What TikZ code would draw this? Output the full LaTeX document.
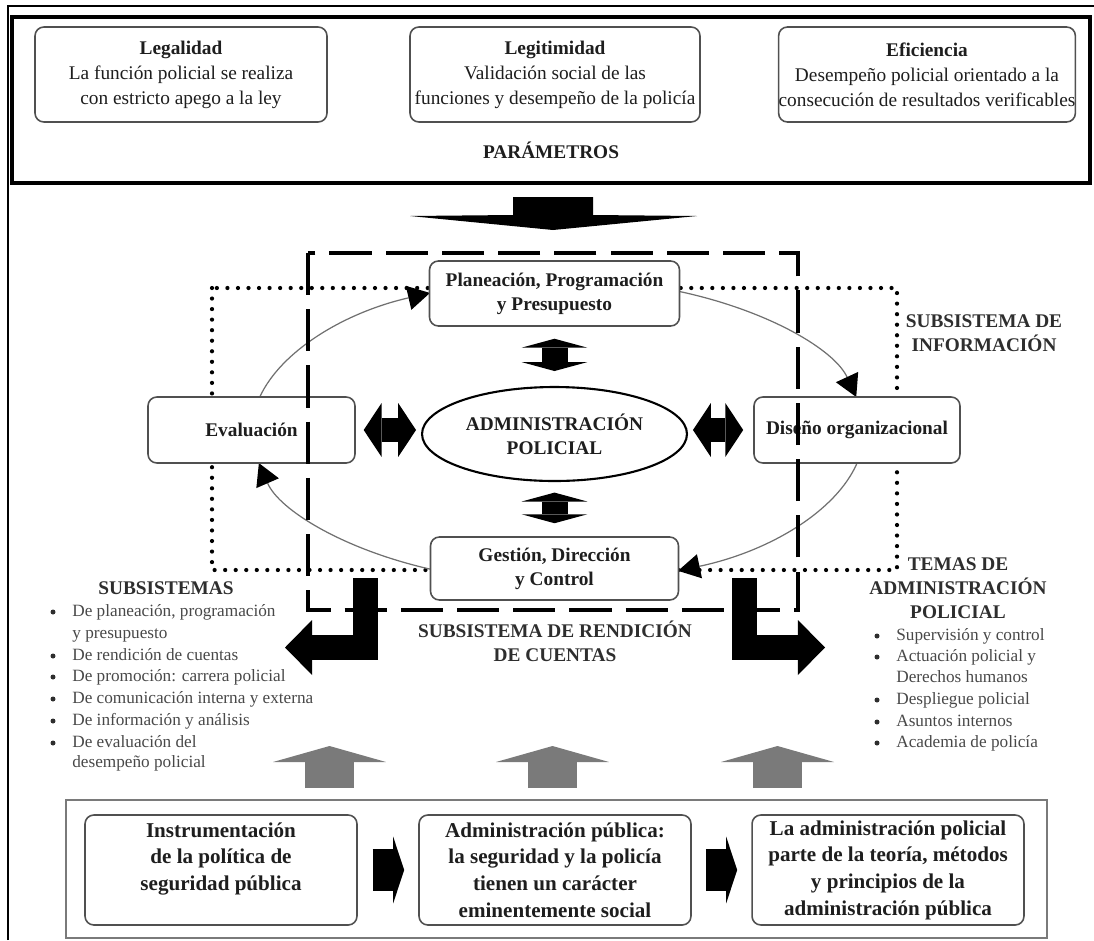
\documentclass[tikz,border=0pt]{standalone}
\usepackage{fontspec}
\setmainfont{Liberation Serif}
\usetikzlibrary{arrows.meta,shapes.geometric,calc}
\definecolor{txt}{HTML}{1E1E1E}
\definecolor{lst}{HTML}{484848}
\definecolor{hd}{HTML}{2E2E2E}
\definecolor{bdr}{HTML}{505050}
\definecolor{garrow}{HTML}{7A7A7A}
\definecolor{cycl}{HTML}{707070}
\tikzset{
  pbox/.style={draw=bdr, line width=0.9pt, rounded corners=5pt, fill=white, align=center, inner sep=0pt, text=txt},
  topfont/.style={font=\fontsize{11}{14.2}\selectfont},
  midfont/.style={font=\bfseries\fontsize{11}{13.7}\selectfont},
  botfont/.style={font=\bfseries\fontsize{12}{15.2}\selectfont},
  headtxt/.style={font=\bfseries\fontsize{11}{13.7}\selectfont, text=hd, align=center, inner sep=0pt},
  listtxt/.style={font=\fontsize{9.8}{12.3}\selectfont, text=lst, inner sep=0pt},
  bulletdot/.style={circle, fill=hd, inner sep=0pt, minimum size=0.1cm},
  parambox/.style={draw=black, line width=2.5pt, inner sep=0pt},
  infoline/.style={line width=2.4pt, line cap=round, dash pattern=on 0pt off 6pt},
  rendline/.style={line width=2.4pt, dash pattern=on 24pt off 8pt},
  cycarrow/.style={draw=cycl, line width=0.7pt, -{Triangle[length=12.5pt,width=14pt,color=black,line width=0pt]}},
  hdbl/.style={draw=black, line width=13.7pt, {Triangle[length=10.2pt,width=30.7pt,line width=0pt]}-{Triangle[length=10.2pt,width=30.7pt,line width=0pt]}},
  vdbl/.style={draw=black, line width=14.8pt, {Triangle[length=5.1pt,width=37.5pt,line width=0pt]}-{Triangle[length=5.1pt,width=37.5pt,line width=0pt]}},
  larrow/.style={draw=black, line width=14.5pt, line join=miter, -{Triangle[length=15.4pt,width=31.3pt,line width=0pt]}},
  garr/.style={draw=garrow, line width=27.9pt, -{Triangle[length=9.1pt,width=64.3pt,line width=0pt]}},
  barr/.style={draw=black, line width=23.9pt, -{Triangle[length=6.3pt,width=38.1pt,line width=0pt]}},
}
\begin{document}
\begin{tikzpicture}[x=0.02cm,y=-0.02cm]
\useasboundingbox (0,0) rectangle (1094,940);

% outer frame
\coordinate (fr1) at (8,940); \coordinate (fr2) at (8,6); \coordinate (fr3) at (1094,6);
\draw[line width=1.1pt] (fr1) -- (fr2) -- (fr3);

% parameters block
\node[parambox, minimum width=21.56cm, minimum height=3.32cm] (param) at (551,100) {};
\node[pbox, topfont, minimum width=5.84cm, minimum height=1.9cm] (leg) at (181,74.5)
  {\textbf{Legalidad}\\La función policial se realiza\\con estricto apego a la ley};
\node[pbox, topfont, minimum width=5.8cm, minimum height=1.9cm] (legi) at (555,74.5)
  {\textbf{Legitimidad}\\Validación social de las\\funciones y desempeño de la policía};
\node[pbox, topfont, minimum width=5.8cm, minimum height=1.9cm] (efi) at (927,74.5)
  {\textbf{Eficiencia}\\Desempeño policial orientado a la\\consecución de resultados verificables};
\node[headtxt, text=txt] (partxt) at (551,150) {PARÁMETROS};

% big down arrow
\fill[black] (513,197) -- (593,197) -- (593,215) -- (697,216) -- (553,230) -- (410,216) -- (513,215) -- cycle;

% information subsystem (dotted)
\coordinate (inf1) at (212,288); \coordinate (inf2) at (897,570);
\draw[infoline] (inf1) rectangle (inf2);

% cycle arcs (ellipse centre 558,431; radii 306 x 152)
\coordinate (cA) at (259.75,397);
\coordinate (cB) at (680,291.6);
\coordinate (cC) at (857.1,463);
\coordinate (cD) at (430,569.1);
\draw[cycarrow] (cA) arc[start angle=192.925, end angle=245.27, x radius=306, y radius=152];
\draw[cycarrow] (cB) arc[start angle=293.5, end angle=347.075, x radius=306, y radius=152];
\draw[cycarrow] (cC) arc[start angle=12.155, end angle=66.91, x radius=306, y radius=152];
\draw[cycarrow] (cD) arc[start angle=114.73, end angle=167.845, x radius=306, y radius=152];

% central boxes
\node[pbox, midfont, minimum width=5cm, minimum height=1.3cm] (plan) at (554.5,293.5)
  {Planeación, Programación\\y Presupuesto};
\node[pbox, midfont, minimum width=4.96cm, minimum height=1.26cm] (ges) at (554.5,568.5)
  {Gestión, Dirección\\y Control};
\node[pbox, midfont, minimum width=4.14cm, minimum height=1.32cm] (eva) at (251.5,430) {Evaluación};
\node[pbox, midfont, minimum width=4.12cm, minimum height=1.32cm] (dis) at (857,430) {Diseño organizacional};
\node[draw=black, line width=1.2pt, ellipse, fill=white, midfont, align=center, inner sep=0pt,
      minimum width=5.3cm, minimum height=1.88cm, text=txt] (adm) at (554.5,434) {ADMINISTRACIÓN\\POLICIAL};

% accountability subsystem (dashed)
\coordinate (ren1) at (308,253); \coordinate (ren2) at (798,610);
\draw[rendline] (ren1) rectangle (ren2);

% double arrows around the centre
\draw[hdbl, shorten <=4.5pt, shorten >=2.8pt] (eva) -- (eva -| adm.west);
\draw[hdbl, shorten <=5.7pt, shorten >=2.8pt] (dis) -- (dis -| adm.east);
\draw[vdbl, shorten <=6.8pt, shorten >=8.5pt] (plan) -- (adm);
\draw[vdbl, shorten <=6pt, shorten >=7.4pt] (adm) -- (ges);

% L-shaped arrows
\coordinate (la0) at (365.5,578); \coordinate (la1) at (365.5,647.5); \coordinate (la2) at (285,647.5);
\draw[larrow] (la0) -- (la1) -- (la2);
\coordinate (ra0) at (744.5,578); \coordinate (ra1) at (744.5,647.5); \coordinate (ra2) at (825,647.5);
\draw[larrow] (ra0) -- (ra1) -- (ra2);

% headings
\node[headtxt] (infh) at (984,333) {SUBSISTEMA DE\\INFORMACIÓN};
\node[headtxt] (renh) at (555,641) {SUBSISTEMA DE RENDICIÓN\\DE CUENTAS};
\node[headtxt] (subh) at (166,588) {SUBSISTEMAS};
\node[headtxt] (temh) at (958,588) {TEMAS DE\\ADMINISTRACIÓN\\POLICIAL};

% left list
\foreach \ly/\lb/\lt [count=\i] in {612/1/{De planeación, programación}, 634/0/{y presupuesto},
   656/1/{De rendición de cuentas}, 677/1/{De promoción: carrera policial},
   699/1/{De comunicación interna y externa}, 721/1/{De información y análisis},
   743/1/{De evaluación del}, 763/0/{desempeño policial}}{
  \node[listtxt, anchor=base west] (sl\i) at (72,\ly+4) {\lt};
  \ifnum\lb=1 \node[bulletdot] (sb\i) at (53,\ly) {}; \fi
}
% right list
\foreach \ly/\lb/\lt [count=\i] in {636/1/{Supervisión y control}, 657/1/{Actuación policial y},
   678/0/{Derechos humanos}, 700/1/{Despliegue policial}, 722/1/{Asuntos internos},
   743/1/{Academia de policía}}{
  \node[listtxt, anchor=base west] (tl\i) at (896,\ly+4) {\lt};
  \ifnum\lb=1 \node[bulletdot] (tb\i) at (877,\ly) {}; \fi
}

% grey up arrows
\coordinate (g1a) at (329.5,788); \coordinate (g1b) at (329.5,746);
\coordinate (g2a) at (552.5,788); \coordinate (g2b) at (552.5,746);
\coordinate (g3a) at (777.5,788); \coordinate (g3b) at (777.5,746);
\draw[garr] (g1a) -- (g1b);
\draw[garr] (g2a) -- (g2b);
\draw[garr] (g3a) -- (g3b);

% bottom block
\node[draw=garrow, line width=1.5pt, inner sep=0pt, minimum width=19.62cm, minimum height=2.76cm] (bot) at (556.5,869) {};
\node[pbox, botfont, minimum width=5.44cm, minimum height=2.2cm] (b1) at (221,870)
  {Instrumentación\\de la política de\\seguridad pública\\\mbox{}};
\node[pbox, botfont, minimum width=5.44cm, minimum height=2.2cm] (b2) at (555,870)
  {Administración pública:\\la seguridad y la policía\\tienen un carácter\\eminentemente social};
\node[pbox, botfont, minimum width=5.44cm, minimum height=2.2cm] (b3) at (888,870)
  {La administración policial\\parte de la teoría, métodos\\y principios de la\\administración pública};
\draw[barr, shorten <=8.5pt, shorten >=8pt] (b1) -- (b2);
\draw[barr, shorten <=8pt, shorten >=8pt] (b2) -- (b3);
\end{tikzpicture}
\end{document}
